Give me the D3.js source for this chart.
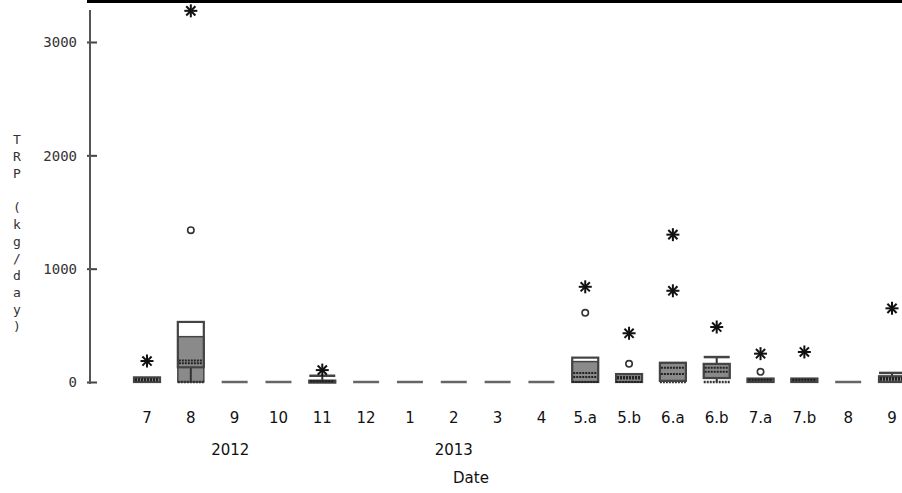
<!DOCTYPE html>
<html>
<head>
<meta charset="utf-8">
<script src="https://cdn.jsdelivr.net/npm/d3@7"></script>
<style>
  body { margin: 0; background: #fff; }
  svg { display: block; }
</style>
</head>
<body>
<svg id="chart" width="902" height="493"></svg>
<script>
// categories (months) and year groups
const cats = ["7","8","9","10","11","12","1","2","3","4","5.a","5.b","6.a","6.b","7.a","7.b","8","9"];
const years = [{label: "2012", at: 1.9}, {label: "2013", at: 7}];

// box statistics per category (kg/day)
const q1      = [0, 130, 0, 0, 0, 0, 0, 0, 0, 0, 0,   0,  10,  35, 0,  0,  0, 0];
const med     = [15, 165, 0, 0, 5, 0, 0, 0, 0, 0, 45, 30,  70,  90, 15, 15, 0, 20];
const mean    = [25, 190, 0, 0, 8, 0, 0, 0, 0, 0, 80, 45, 125, 125, 20, 20, 0, 35];
const q3      = [40, 530, 0, 0, 12, 0, 0, 0, 0, 0, 215, 70, 170, 160, 30, 30, 0, 50];
const lo      = [0, 0, 0, 0, 0, 0, 0, 0, 0, 0, 0, 0, 0, 0, 0, 0, 0, 0];
const hi      = [40, 530, 0, 0, 55, 0, 0, 0, 0, 0, 215, 70, 170, 220, 30, 30, 0, 80];
const shadeLo = [0, 0, 0, 0, 0, 0, 0, 0, 0, 0, 0, 0, 10, 35, 0, 0, 0, 0];
const shadeHi = [40, 400, 0, 0, 12, 0, 0, 0, 0, 0, 180, 70, 170, 160, 30, 30, 0, 50];
const circles = [[], [1340], [], [], [], [], [], [], [], [], [610], [160], [], [], [90], [], [], []];
const stars   = [[185], [3275], [], [], [105], [], [], [], [], [], [840], [430], [1300, 805], [485], [250], [265], [], [650]];
const yTicks = [0, 1000, 2000, 3000];
const yTitle = "TRP (kg/day)";

const svg = d3.select("#chart");

const x = d3.scaleLinear().domain([0, cats.length - 1]).range([147, 892]);
const y = d3.scaleLinear().domain([0, 3000]).range([382, 42]);
const bw = 26;

// frame line on top
svg.append("line").attr("x1", 87).attr("x2", 902).attr("y1", 1.5).attr("y2", 1.5)
  .attr("stroke", "#000").attr("stroke-width", 3);

// y axis
const yAxis = d3.axisLeft(y).tickValues(yTicks).tickFormat(d3.format("d")).tickSize(0).tickPadding(13);
const ga = svg.append("g").attr("transform", "translate(90,0)").call(yAxis);
ga.select(".domain").remove();
ga.selectAll(".tick text")
  .attr("font-family", "DejaVu Sans Mono, monospace").attr("font-size", 14)
  .attr("fill", "#333").attr("dy", "0.35em");
ga.selectAll(".tick").append("line")
  .attr("x1", -3).attr("x2", 7).attr("stroke", "#444").attr("stroke-width", 2);
svg.append("line").attr("x1", 90).attr("x2", 90).attr("y1", 10).attr("y2", 384)
  .attr("stroke", "#555").attr("stroke-width", 2);

// vertical stacked y title
svg.append("g").selectAll("text").data(yTitle.split("")).join("text")
  .attr("x", 17).attr("y", (d, i) => 144 + i * 17)
  .attr("text-anchor", "middle")
  .attr("font-family", "DejaVu Sans Mono, monospace").attr("font-size", 13)
  .attr("fill", "#333").text(d => d);

// boxes
const boxes = svg.append("g").selectAll("g").data(cats).join("g")
  .attr("transform", (d, i) => `translate(${x(i)},0)`);

boxes.each(function(d, i) {
  const g = d3.select(this);
  if (q3[i] === 0 && hi[i] === 0) {
    g.append("line").attr("x1", -bw / 2).attr("x2", bw / 2)
      .attr("y1", y(0)).attr("y2", y(0))
      .attr("stroke", "#666").attr("stroke-width", 2.5);
    return;
  }
  // whiskers
  if (hi[i] > q3[i]) {
    g.append("line").attr("x1", 0).attr("x2", 0).attr("y1", y(hi[i])).attr("y2", y(q3[i]))
      .attr("stroke", "#333").attr("stroke-width", 2);
    g.append("line").attr("x1", -bw / 2).attr("x2", bw / 2).attr("y1", y(hi[i])).attr("y2", y(hi[i]))
      .attr("stroke", "#444").attr("stroke-width", 2.5);
  }
  // shaded part
  g.append("rect").attr("x", -bw / 2).attr("width", bw)
    .attr("y", y(shadeHi[i])).attr("height", Math.max(1, y(shadeLo[i]) - y(shadeHi[i])))
    .attr("fill", "#8a8a8a").attr("stroke", "#444").attr("stroke-width", 1.5);
  if (lo[i] < q1[i]) {
    g.append("line").attr("x1", 0).attr("x2", 0).attr("y1", y(q1[i])).attr("y2", y(lo[i]))
      .attr("stroke", "#333").attr("stroke-width", 2);
    g.append("line").attr("x1", -bw / 2).attr("x2", bw / 2).attr("y1", y(lo[i])).attr("y2", y(lo[i]))
      .attr("stroke", "#333").attr("stroke-width", 2.5).attr("stroke-dasharray", "2,1");
  }
  // box outline
  g.append("rect").attr("x", -bw / 2).attr("width", bw)
    .attr("y", y(q3[i])).attr("height", Math.max(2, y(q1[i]) - y(q3[i])))
    .attr("fill", "none").attr("stroke", "#444").attr("stroke-width", 2.2);
  // median and mean dotted lines
  [med[i], mean[i]].forEach(v => {
    g.append("line").attr("x1", -bw / 2 + 1).attr("x2", bw / 2 - 1).attr("y1", y(v)).attr("y2", y(v))
      .attr("stroke", "#222").attr("stroke-width", 2).attr("stroke-dasharray", "2,1");
  });
  if (lo[i] >= q1[i] && q3[i] - q1[i] > 60) {
    g.append("line").attr("x1", -bw / 2).attr("x2", bw / 2).attr("y1", y(q1[i])).attr("y2", y(q1[i]))
      .attr("stroke", "#222").attr("stroke-width", 2).attr("stroke-dasharray", "2,1");
  }
});

// outliers: circles
boxes.selectAll("circle").data((d, i) => circles[i]).join("circle")
  .attr("cx", 0).attr("cy", v => y(v)).attr("r", 3.2)
  .attr("fill", "#fff").attr("stroke", "#333").attr("stroke-width", 1.6);

// extremes: asterisks
const star = boxes.selectAll("g.star").data((d, i) => stars[i]).join("g")
  .attr("class", "star").attr("transform", v => `translate(0,${y(v)})`);
[0, 45, 90, 135].forEach(a => {
  star.append("line").attr("x1", -6.5).attr("x2", 6.5)
    .attr("transform", `rotate(${a})`)
    .attr("stroke", "#111").attr("stroke-width", 2);
});

// x labels
svg.append("g").selectAll("text").data(cats).join("text")
  .attr("x", (d, i) => x(i)).attr("y", 423)
  .attr("text-anchor", "middle")
  .attr("font-family", "DejaVu Sans, Verdana, sans-serif").attr("font-size", 15)
  .attr("fill", "#111").text(d => d);

svg.append("g").selectAll("text").data(years).join("text")
  .attr("x", d => x(d.at) + 40 * 0).attr("y", 455)
  .attr("text-anchor", "middle")
  .attr("font-family", "DejaVu Sans, Verdana, sans-serif").attr("font-size", 15)
  .attr("fill", "#111").text(d => d.label);

svg.append("text").attr("x", 471).attr("y", 483).attr("text-anchor", "middle")
  .attr("font-family", "DejaVu Sans, Verdana, sans-serif").attr("font-size", 15)
  .attr("fill", "#111").text("Date");
</script>
</body>
</html>
